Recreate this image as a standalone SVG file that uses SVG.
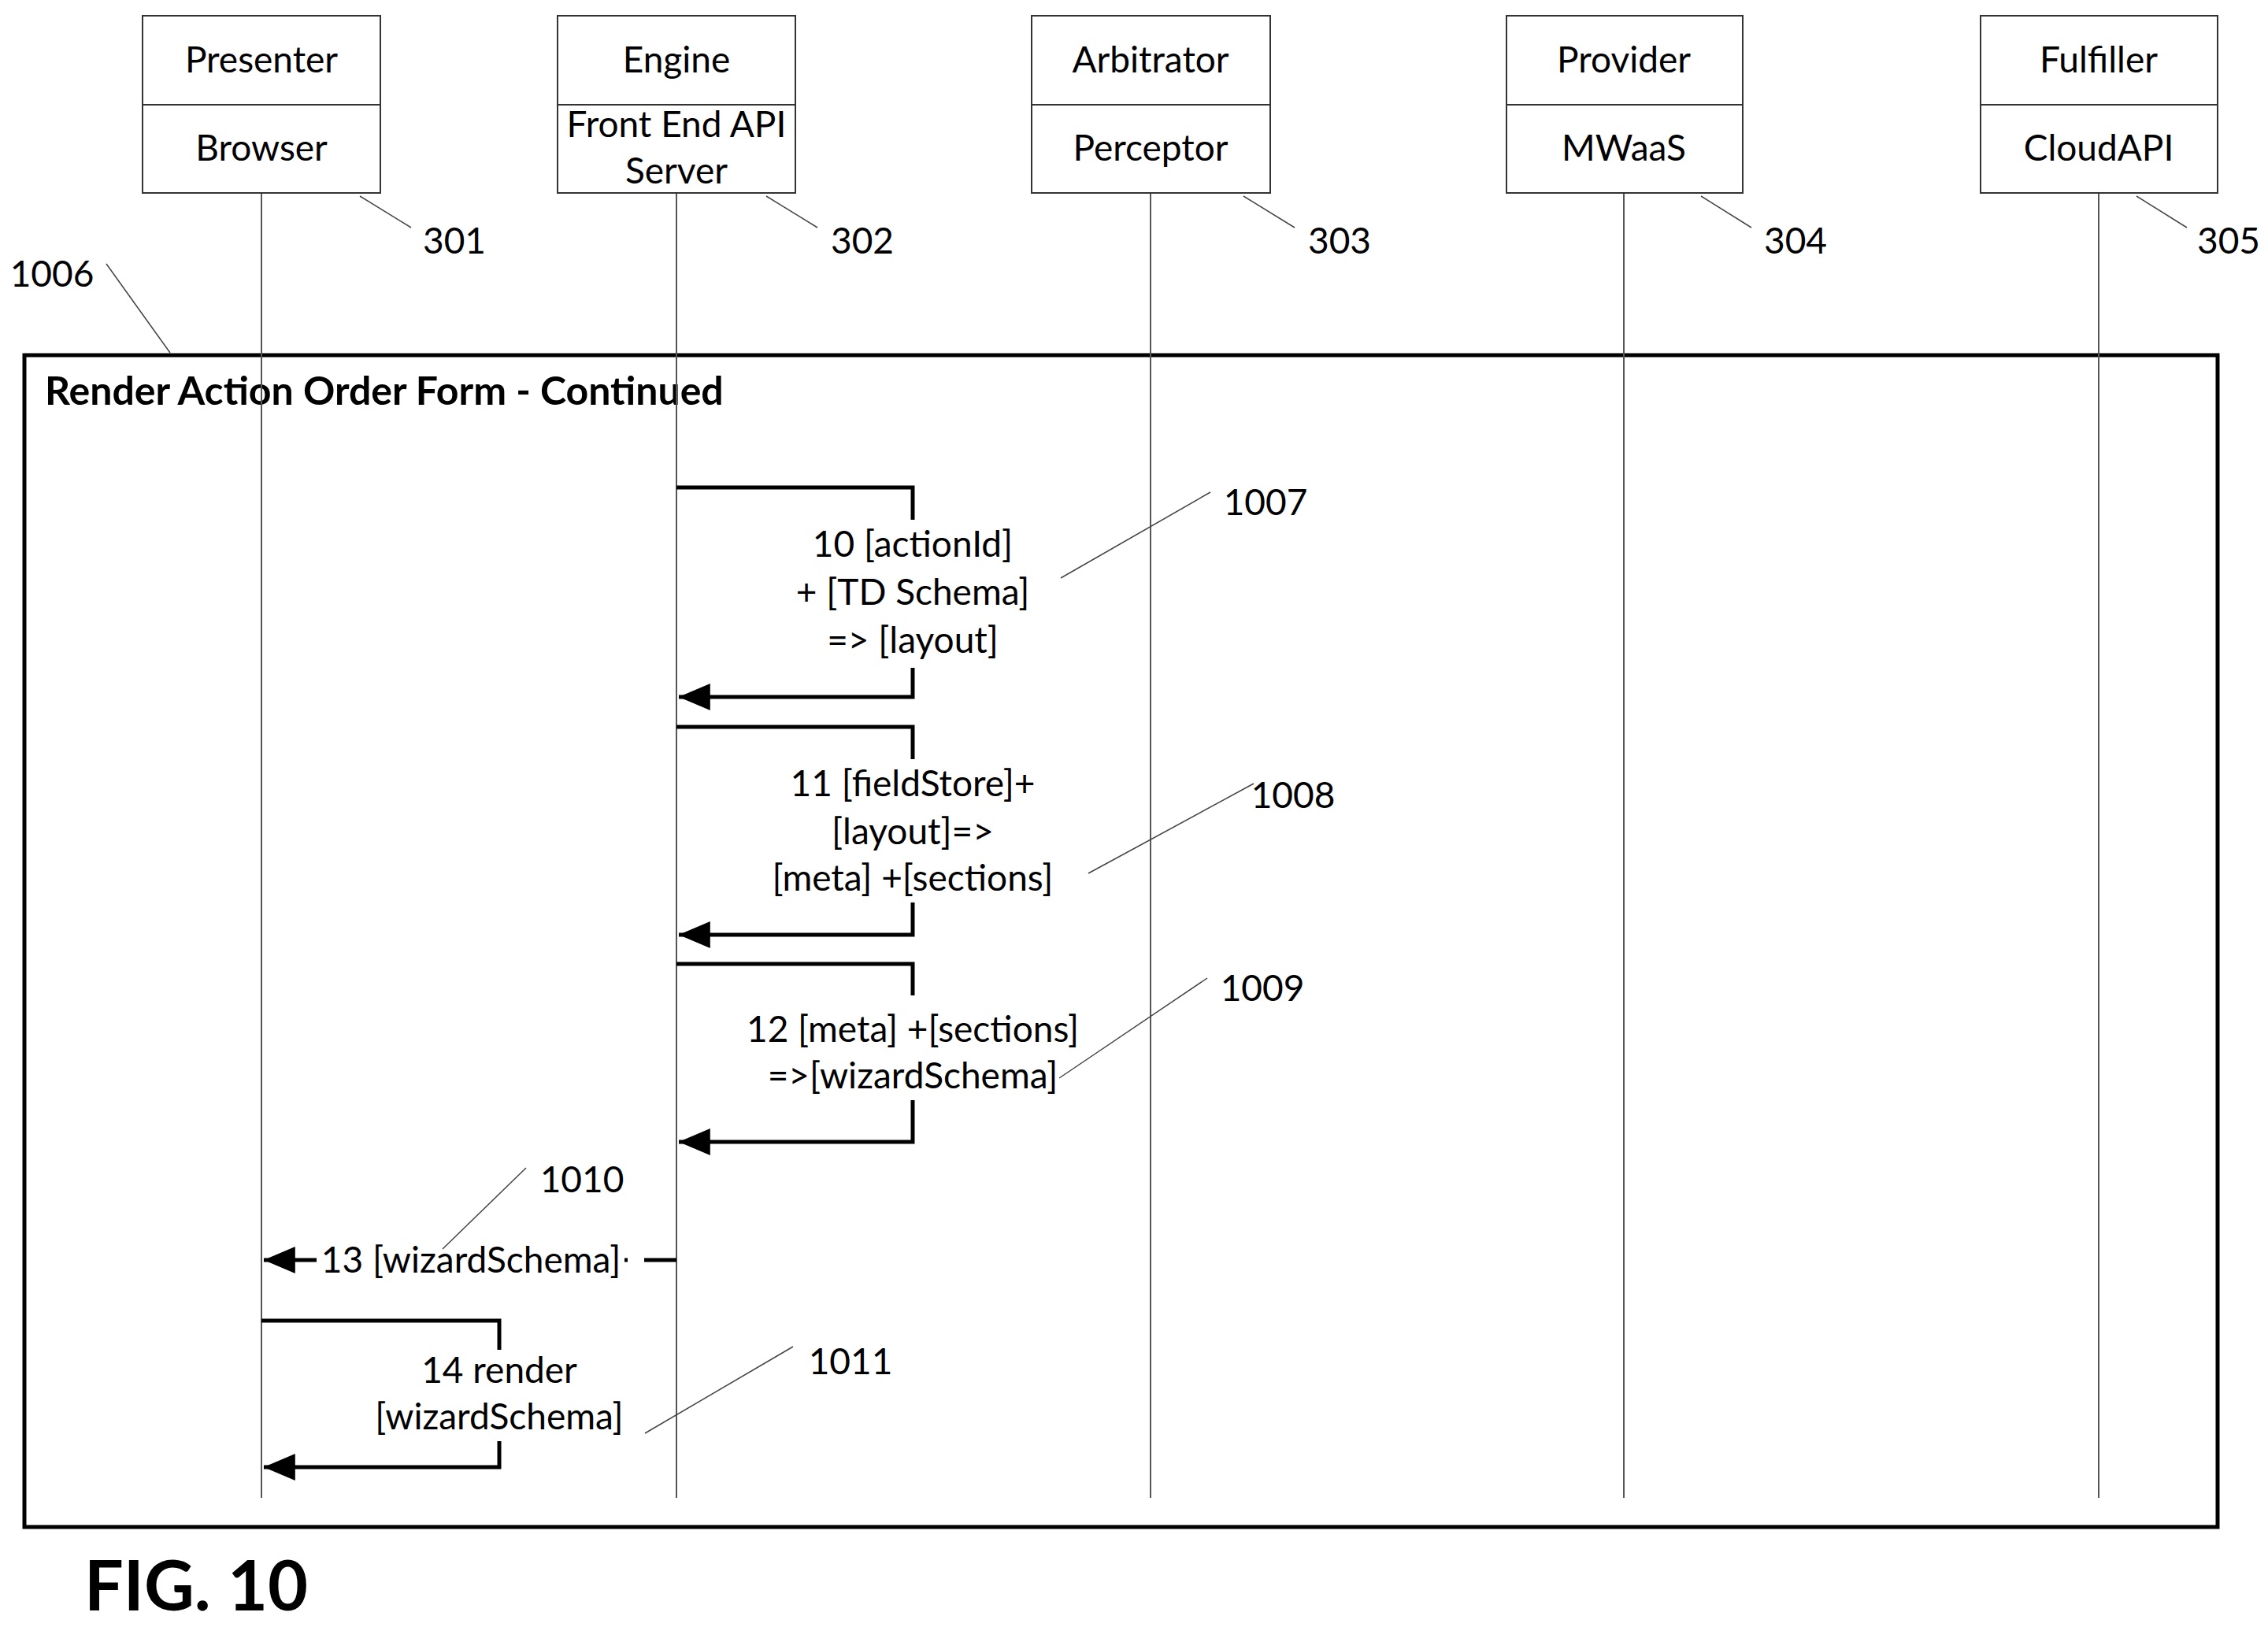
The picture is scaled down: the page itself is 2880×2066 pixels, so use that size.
<svg xmlns="http://www.w3.org/2000/svg" width="2880" height="2066" viewBox="0 0 2880 2066">
<style>
text{font-family:Lato,"Open Sans",sans-serif;font-size:46px;fill:#000;text-anchor:middle}
.box{fill:#fff;stroke:#333;stroke-width:2}
.life{stroke:#555;stroke-width:2;fill:none}
.lead{stroke:#444;stroke-width:1.5;fill:none}
.msg{stroke:#000;stroke-width:5;fill:none}
.l{text-anchor:start}
</style>
<defs>
<marker id="ah" markerWidth="10" markerHeight="10" refX="9" refY="5" orient="auto" markerUnits="userSpaceOnUse" viewBox="0 0 10 10" style="overflow:visible">
<path d="M0,0 L10,5 L0,10 Z" fill="#000" transform="scale(4,3.4) translate(-7.7,-3.5)"/>
</marker>
</defs>
<rect width="2880" height="2066" fill="#fff"/>
<g id="frame">
<rect x="31" y="451" width="2785" height="1488" fill="none" stroke="#000" stroke-width="5"/>
<text x="57" y="514" class="l" style="font-weight:bold;font-size:50px">Render Action Order Form - Continued</text>
</g>
<g id="lifelines">
<line class="life" x1="332" y1="245" x2="332" y2="1902"/>
<line class="life" x1="859" y1="245" x2="859" y2="1902"/>
<line class="life" x1="1461" y1="245" x2="1461" y2="1902"/>
<line class="life" x1="2062" y1="245" x2="2062" y2="1902"/>
<line class="life" x1="2665" y1="245" x2="2665" y2="1902"/>
</g>
<g id="presenter"><rect class="box" x="181" y="20" width="302" height="225"/><line class="box" x1="181" y1="133" x2="483" y2="133"/><text x="332" y="92">Presenter</text><text x="332" y="204">Browser</text></g>
<g id="engine"><rect class="box" x="708" y="20" width="302" height="225"/><line class="box" x1="708" y1="133" x2="1010" y2="133"/><text x="859" y="92">Engine</text><text x="859" y="174">Front End API</text><text x="859" y="233">Server</text></g>
<g id="arbitrator"><rect class="box" x="1310" y="20" width="303" height="225"/><line class="box" x1="1310" y1="133" x2="1613" y2="133"/><text x="1461" y="92">Arbitrator</text><text x="1461" y="204">Perceptor</text></g>
<g id="provider"><rect class="box" x="1913" y="20" width="300" height="225"/><line class="box" x1="1913" y1="133" x2="2213" y2="133"/><text x="2062" y="92">Provider</text><text x="2062" y="204">MWaaS</text></g>
<g id="fulfiller"><rect class="box" x="2515" y="20" width="301" height="225"/><line class="box" x1="2515" y1="133" x2="2816" y2="133"/><text x="2665" y="92">Fulfiller</text><text x="2665" y="204">CloudAPI</text></g>
<g id="refs">
<text x="577" y="322">301</text><line class="lead" x1="457" y1="249" x2="522" y2="289"/>
<text x="1095" y="322">302</text><line class="lead" x1="973" y1="249" x2="1038" y2="289"/>
<text x="1701" y="322">303</text><line class="lead" x1="1579" y1="249" x2="1644" y2="289"/>
<text x="2280" y="322">304</text><line class="lead" x1="2160" y1="249" x2="2224" y2="289"/>
<text x="2830" y="322">305</text><line class="lead" x1="2713" y1="249" x2="2777" y2="289"/>
<text x="66" y="364">1006</text><line class="lead" x1="135" y1="335" x2="216" y2="448"/>
<text x="1607" y="654">1007</text><line class="lead" x1="1537" y1="625" x2="1347" y2="734"/>
<text x="1642" y="1026">1008</text><line class="lead" x1="1592" y1="995" x2="1382" y2="1109"/>
<text x="1603" y="1271">1009</text><line class="lead" x1="1533" y1="1242" x2="1345" y2="1369"/>
<text x="739" y="1514">1010</text><line class="lead" x1="668" y1="1483" x2="562" y2="1586"/>
<text x="1080" y="1745">1011</text><line class="lead" x1="1007" y1="1710" x2="819" y2="1820"/>
</g>
<g id="connectors">
<polyline class="msg" points="859,619 1159,619 1159,660"/>
<polyline class="msg" points="1159,848 1159,885 862,885" marker-end="url(#ah)"/>
<polyline class="msg" points="859,923 1159,923 1159,964"/>
<polyline class="msg" points="1159,1146 1159,1187 862,1187" marker-end="url(#ah)"/>
<polyline class="msg" points="859,1224 1159,1224 1159,1264"/>
<polyline class="msg" points="1159,1397 1159,1450 862,1450" marker-end="url(#ah)"/>
<line class="msg" x1="859" y1="1600" x2="818" y2="1600"/>
<line class="msg" x1="797" y1="1600" x2="793" y2="1600"/>
<line class="msg" x1="402" y1="1600" x2="335" y2="1600" marker-end="url(#ah)"/>
<polyline class="msg" points="332,1677 634,1677 634,1714"/>
<polyline class="msg" points="634,1830 634,1863 335,1863" marker-end="url(#ah)"/>
</g>
<g id="labels">
<text x="1159" y="707">10 [actionId]</text>
<text x="1159" y="768">+ [TD Schema]</text>
<text x="1159" y="829">=&gt; [layout]</text>
<text x="1159" y="1011">11 [fieldStore]+</text>
<text x="1159" y="1072">[layout]=&gt;</text>
<text x="1159" y="1131">[meta] +[sections]</text>
<text x="1159" y="1323">12 [meta] +[sections]</text>
<text x="1159" y="1382">=&gt;[wizardSchema]</text>
<text x="598" y="1616">13 [wizardSchema]</text>
<text x="634" y="1756">14 render</text>
<text x="634" y="1815">[wizardSchema]</text>
</g>
<text x="107" y="2045" class="l" style="font-weight:bold;font-size:88px">FIG. 10</text>
</svg>
